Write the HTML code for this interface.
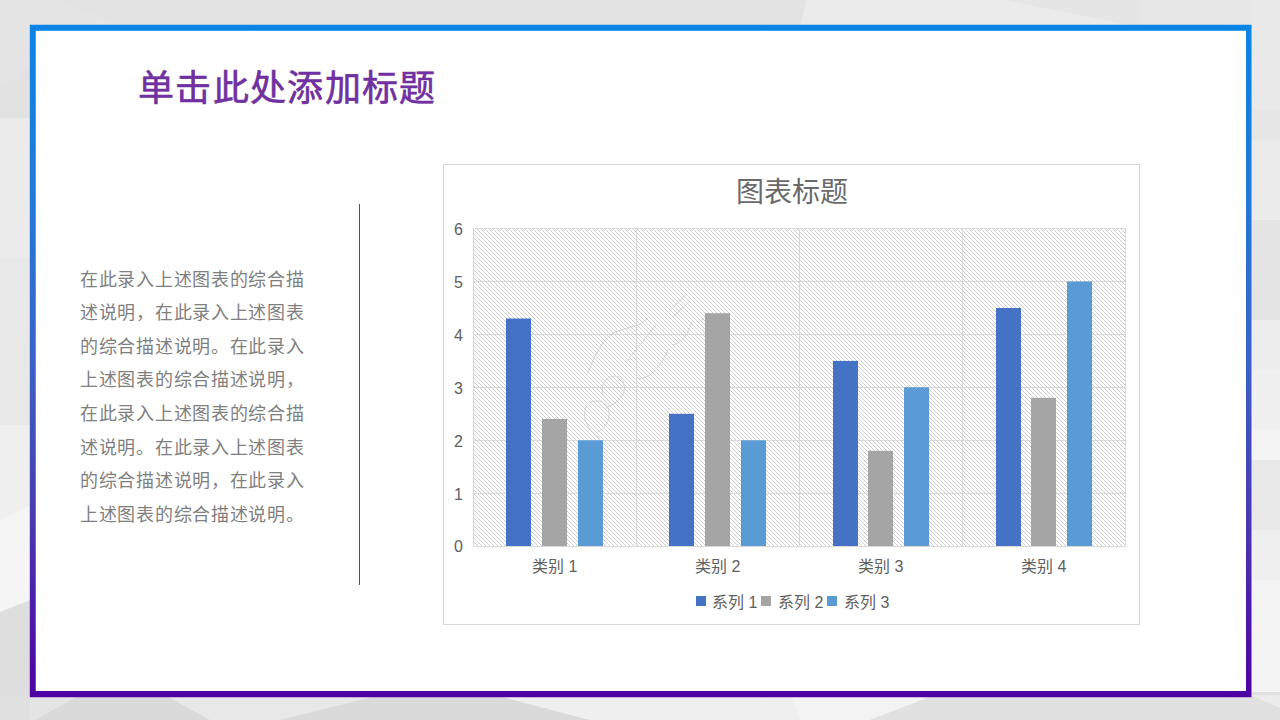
<!DOCTYPE html>
<html lang="zh-CN"><head><meta charset="utf-8">
<style>
html,body{margin:0;padding:0;}
body{width:1280px;height:720px;overflow:hidden;position:relative;background:#e6e6e6;font-family:"Liberation Sans",sans-serif;}
.abs{position:absolute;}
#bg{position:absolute;left:0;top:0;}
#title{position:absolute;left:138px;top:64px;font-size:36px;letter-spacing:1.33px;-webkit-text-stroke:0.6px #7030a0;color:#7030a0;white-space:nowrap;line-height:50px;}
#body{position:absolute;left:80px;top:263.6px;width:260px;font-size:18px;letter-spacing:0.72px;line-height:33.6px;color:#7f7f7f;}
#body div{white-space:nowrap;}
#vline{position:absolute;left:359px;top:204px;width:1px;height:381px;background:#44546a;}
#chart{position:absolute;left:443px;top:164px;width:695px;height:459px;border:1px solid #d9d9d9;background:#fff;}
.ct{position:absolute;color:#606060;white-space:nowrap;}
</style></head>
<body>
<svg id="bg" width="1280" height="720" viewBox="0 0 1280 720">
<rect x="0" y="0" width="1280" height="720" fill="#e6e6e6"/>
<!-- top strip -->
<polygon points="0,0 806,0 800,30 0,30" fill="#e3e3e3"/>
<polygon points="0,0 60,0 130,30 0,30" fill="#e5e5e5"/>
<polygon points="806,0 1280,0 1280,30 800,30" fill="#ebebeb"/>
<polygon points="1005,0 1280,0 1280,30 1140,30 1130,25" fill="#e5e5e5"/>
<polygon points="1140,0 1280,0 1280,30 1140,30" fill="#e7e7e7"/>
<!-- left strip -->
<rect x="0" y="0" width="31" height="118" fill="#e2e2e2"/>
<polygon points="0,0 40,0 40,60 0,90" fill="#e4e4e4"/>
<rect x="0" y="118" width="31" height="140" fill="#ebebeb"/>
<rect x="0" y="258" width="31" height="167" fill="#e8e8e8"/>
<rect x="0" y="425" width="31" height="95" fill="#efefef"/>
<polygon points="0,520 31,505 31,600 0,612" fill="#f5f5f5"/>
<polygon points="0,612 31,600 31,720 0,720" fill="#dedede"/>
<!-- right strip -->
<rect x="1250" y="0" width="30" height="110" fill="#e9e9e9"/>
<rect x="1250" y="110" width="30" height="30" fill="#e6e6e6"/>
<rect x="1250" y="140" width="30" height="80" fill="#ebebeb"/>
<rect x="1250" y="220" width="30" height="100" fill="#e4e4e4"/>
<rect x="1250" y="320" width="30" height="50" fill="#ededed"/>
<rect x="1250" y="370" width="30" height="60" fill="#f0f0f0"/>
<rect x="1250" y="430" width="30" height="30" fill="#f3f3f3"/>
<rect x="1250" y="460" width="30" height="70" fill="#e8e8e8"/>
<rect x="1250" y="530" width="30" height="50" fill="#efefef"/>
<rect x="1250" y="580" width="30" height="112" fill="#f3f3f3"/>
<rect x="1250" y="692" width="30" height="28" fill="#dfdfdf"/>
<!-- bottom strip -->
<rect x="0" y="695" width="1280" height="25" fill="#e4e4e4"/>
<rect x="0" y="695" width="30" height="25" fill="#e0e0e0"/>
<polygon points="80,695 165,695 210,720 35,720" fill="#dadada"/>
<polygon points="165,695 380,695 300,720 210,720" fill="#e8e8e8"/>
<polygon points="280,720 380,695 495,695 590,720" fill="#dadada"/>
<polygon points="495,695 790,695 800,720 590,720" fill="#efefef"/>
<polygon points="790,695 935,695 870,720 800,720" fill="#f3f3f3"/>
<polygon points="935,695 1280,695 1280,720 870,720" fill="#e1e1e1"/>
<polygon points="1250,695 1280,695 1280,708" fill="#ececec"/>
</svg>
<svg class="abs" style="left:0;top:0" width="1280" height="720" viewBox="0 0 1280 720">
<defs><linearGradient id="fg" x1="0" y1="24.8" x2="0" y2="697.2" gradientUnits="userSpaceOnUse">
<stop offset="0" stop-color="rgb(10,132,230)"/><stop offset="0.26" stop-color="rgb(35,120,216)"/><stop offset="0.5" stop-color="rgb(58,98,200)"/><stop offset="0.74" stop-color="rgb(74,56,176)"/><stop offset="1" stop-color="rgb(79,0,164)"/></linearGradient></defs>
<rect x="35.7" y="30.8" width="1210.3" height="660.1" fill="#fff"/>
<path fill="url(#fg)" fill-rule="evenodd" d="M29.8 24.8H1251.5V697.2H29.8Z M35.7 30.8V690.9H1246V30.8Z"/>
</svg>
<div id="title">单击此处添加标题</div>
<div id="body">
<div>在此录入上述图表的综合描</div>
<div>述说明，在此录入上述图表</div>
<div>的综合描述说明。在此录入</div>
<div>上述图表的综合描述说明，</div>
<div>在此录入上述图表的综合描</div>
<div>述说明。在此录入上述图表</div>
<div>的综合描述说明，在此录入</div>
<div>上述图表的综合描述说明。</div>
</div>
<div id="vline"></div>
<div id="chart"></div>
<svg class="abs" style="left:0;top:0" width="1280" height="720" viewBox="0 0 1280 720">
<defs>
<pattern id="hatch" x="0" y="0" width="4" height="4" patternUnits="userSpaceOnUse">
<rect x="0" y="0" width="1" height="1" fill="#cecece"/>
<rect x="1" y="1" width="1" height="1" fill="#cecece"/>
<rect x="2" y="2" width="1" height="1" fill="#cecece"/>
<rect x="3" y="3" width="1" height="1" fill="#cecece"/>
</pattern>
</defs>
<rect x="473" y="228.5" width="652" height="317.5" fill="url(#hatch)"/>
<g stroke="#d9d9d9" stroke-width="1" fill="none">
<path d="M473 228.5H1125M473 281.5H1125M473 334.5H1125M473 387.5H1125M473 440.5H1125M473 493.5H1125"/>
<path d="M473.5 228V546M636.5 228V546M799.5 228V546M962.5 228V546M1125.5 228V546"/>
<path d="M473 546.5H1126"/>
</g>
<g stroke="#d2d2d2" stroke-width="1" fill="none" stroke-linecap="round">
<path d="M588,373 C596,352 604,336 618,331 C630,327 640,326 648,318"/>
<path d="M600,438 C590,432 582,420 585,410 C588,400 600,398 606,405 C612,412 610,425 598,432"/>
<path d="M603,395 C600,385 606,376 615,376 C624,377 627,388 622,396 C618,402 612,405 606,408"/>
<path d="M627,361 L656,325"/>
<path d="M667,314 L685,295"/>
<path d="M673,317 L689,302"/>
<path d="M638,379 C650,378 660,368 668,350"/>
<path d="M673,345 C682,342 688,335 692,322"/>
<path d="M698,322 C703,320 707,316 709,313"/>
</g>
<g>
<rect x="506" y="318.5" width="25" height="227.5" fill="#4472c4"/>
<rect x="542" y="419" width="25" height="127" fill="#a5a5a5"/>
<rect x="578" y="440.3" width="25" height="105.7" fill="#5b9bd5"/>
<rect x="669" y="413.8" width="25" height="132.2" fill="#4472c4"/>
<rect x="705" y="313.2" width="25" height="232.8" fill="#a5a5a5"/>
<rect x="741" y="440.3" width="25" height="105.7" fill="#5b9bd5"/>
<rect x="833" y="360.9" width="25" height="185.1" fill="#4472c4"/>
<rect x="868" y="450.8" width="25" height="95.2" fill="#a5a5a5"/>
<rect x="904" y="387.3" width="25" height="158.7" fill="#5b9bd5"/>
<rect x="996" y="308" width="25" height="238" fill="#4472c4"/>
<rect x="1031" y="397.9" width="25" height="148.1" fill="#a5a5a5"/>
<rect x="1067" y="281.5" width="25" height="264.5" fill="#5b9bd5"/>
</g>
</svg>
<div class="ct" style="left:736px;top:170px;font-size:28px;color:#6a6a6a">图表标题</div>
<div class="ct" style="left:454px;top:221px;font-size:16px;">6</div>
<div class="ct" style="left:454px;top:273.9px;font-size:16px;">5</div>
<div class="ct" style="left:454px;top:326.8px;font-size:16px;">4</div>
<div class="ct" style="left:454px;top:379.7px;font-size:16px;">3</div>
<div class="ct" style="left:454px;top:432.6px;font-size:16px;">2</div>
<div class="ct" style="left:454px;top:485.5px;font-size:16px;">1</div>
<div class="ct" style="left:454px;top:538.4px;font-size:16px;">0</div>
<div class="ct" style="left:532px;top:553px;font-size:16px;">类别 1</div>
<div class="ct" style="left:695px;top:553px;font-size:16px;">类别 2</div>
<div class="ct" style="left:858px;top:553px;font-size:16px;">类别 3</div>
<div class="ct" style="left:1021px;top:553px;font-size:16px;">类别 4</div>
<div class="abs" style="left:696px;top:596px;width:10px;height:10px;background:#4472c4"></div>
<div class="ct" style="left:712px;top:588.5px;font-size:16px;">系列 1</div>
<div class="abs" style="left:761px;top:596px;width:10px;height:10px;background:#a5a5a5"></div>
<div class="ct" style="left:778px;top:588.5px;font-size:16px;">系列 2</div>
<div class="abs" style="left:827px;top:596px;width:10px;height:10px;background:#5b9bd5"></div>
<div class="ct" style="left:844px;top:588.5px;font-size:16px;">系列 3</div>
</body></html>
